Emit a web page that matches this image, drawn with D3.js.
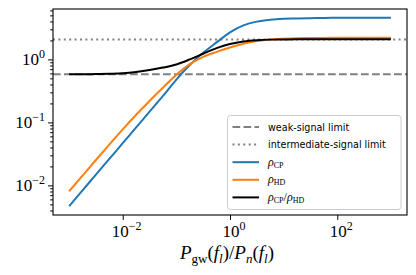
<!DOCTYPE html>
<html>
<head>
<meta charset="utf-8">
<script src="https://cdn.jsdelivr.net/npm/d3@7"></script>
<style>
  body { margin: 0; background: #fff; }
  svg { display: block; }
</style>
</head>
<body>
<svg id="chart" width="416" height="275"></svg>
<script>
// ratio P_gw / P_n (quarter decades)
const snr = [0.001, 0.00178, 0.00316, 0.00562, 0.01, 0.0178, 0.0316, 0.0562, 0.1, 0.178, 0.316, 0.562,
  1, 1.78, 3.16, 5.62, 10, 17.8, 31.6, 56.2, 100, 178, 316, 562, 1000];
const rhoCP = [0.00468, 0.00832, 0.0148, 0.0263, 0.0468, 0.0832, 0.148, 0.263, 0.479, 0.813, 1.27, 1.86,
  2.69, 3.47, 3.98, 4.27, 4.42, 4.47, 4.52, 4.55, 4.57, 4.57, 4.57, 4.57, 4.57];
const rhoHD = [0.00807, 0.0143, 0.0253, 0.0445, 0.0776, 0.132, 0.219, 0.355, 0.569, 0.841, 1.096, 1.318,
  1.549, 1.778, 1.95, 2.065, 2.128, 2.163, 2.183, 2.193, 2.198, 2.198, 2.198, 2.198, 2.198];
const ratio = [0.579, 0.581, 0.585, 0.592, 0.603, 0.631, 0.676, 0.741, 0.832, 1.00, 1.23, 1.51,
  1.76, 1.93, 2.02, 2.06, 2.07, 2.08, 2.08, 2.08, 2.08, 2.08, 2.08, 2.08, 2.08];
const weakLimit = 0.58;
const interLimit = 2.06;

const xMajor = [1e-2, 1, 1e2];
const yMajor = [1e-2, 1e-1, 1];
const xExp = ["\u22122", "0", "2"];
const yExp = ["\u22122", "\u22121", "0"];

const svg = d3.select("#chart");
const m = { left: 53, right: 407, top: 9, bottom: 215 };

const x = d3.scaleLog().domain([Math.pow(10, -3.3), Math.pow(10, 3.3)]).range([m.left, m.right]);
const y = d3.scaleLog().domain([Math.pow(10, -2.47), Math.pow(10, 0.80)]).range([m.bottom, m.top]);

svg.append("clipPath").attr("id", "clip")
  .append("rect").attr("x", m.left).attr("y", m.top)
  .attr("width", m.right - m.left).attr("height", m.bottom - m.top);

const plot = svg.append("g").attr("clip-path", "url(#clip)");

// limit lines
const hline = (v, dash) => plot.append("line")
  .attr("x1", m.left).attr("x2", m.right)
  .attr("y1", y(v)).attr("y2", y(v))
  .attr("stroke", "#808080").attr("stroke-width", 2)
  .attr("stroke-dasharray", dash);
hline(weakLimit, "7.7,3.3");
hline(interLimit, "2,3.4");

const line = d3.line().x((d, i) => x(snr[i])).y(d => y(d)).curve(d3.curveMonotoneX);
const series = [
  { vals: rhoCP, color: "#1f77b4" },
  { vals: rhoHD, color: "#ff7f0e" },
  { vals: ratio, color: "#000000" }
];
series.forEach(s => {
  plot.append("path").datum(s.vals)
    .attr("fill", "none").attr("stroke", s.color)
    .attr("stroke-width", 2).attr("stroke-linejoin", "round")
    .attr("d", line);
});

// axes
const yMinor = [];
[1e-3, 1e-2, 1e-1, 1].forEach(b => { for (let k = 2; k <= 9; k++) yMinor.push(b * k); });
const yDom = y.domain();
const yMinorIn = yMinor.filter(v => v >= yDom[0] && v <= yDom[1]);

svg.append("g").attr("transform", `translate(${m.left},0)`)
  .call(d3.axisLeft(y).tickValues(yMinorIn).tickSize(2.8).tickFormat(""))
  .call(g => g.select(".domain").remove());

const yAx = svg.append("g").attr("transform", `translate(${m.left},0)`)
  .call(d3.axisLeft(y).tickValues(yMajor).tickSize(4.9).tickFormat(""));
yAx.select(".domain").remove();

const xAx = svg.append("g").attr("transform", `translate(0,${m.bottom})`)
  .call(d3.axisBottom(x).tickValues(xMajor).tickSize(4.9).tickFormat(""));
xAx.select(".domain").remove();

svg.selectAll(".tick line").attr("stroke", "#000").attr("stroke-width", 1);

// tick labels with superscripts
yMajor.forEach((v, i) => {
  const t = svg.append("text")
    .attr("x", m.left - 8).attr("y", y(v) + 6)
    .attr("text-anchor", "end")
    .attr("font-family", "Liberation Serif, serif").attr("font-size", 17);
  t.append("tspan").text("10");
  t.append("tspan").attr("dy", -7).attr("font-size", 12).text(yExp[i]);
});
xMajor.forEach((v, i) => {
  const t = svg.append("text")
    .attr("x", x(v) + 4).attr("y", m.bottom + 22)
    .attr("text-anchor", "middle")
    .attr("font-family", "Liberation Serif, serif").attr("font-size", 17);
  t.append("tspan").text("10");
  t.append("tspan").attr("dy", -7).attr("font-size", 12).text(xExp[i]);
});

// frame
svg.append("rect").attr("x", m.left).attr("y", m.top)
  .attr("width", m.right - m.left).attr("height", m.bottom - m.top)
  .attr("fill", "none").attr("stroke", "#000").attr("stroke-width", 1.1);

// x label
const xl = svg.append("text")
  .attr("x", 227).attr("y", 259)
  .attr("text-anchor", "middle")
  .attr("font-family", "Liberation Serif, serif").attr("font-size", 19);
const part = (s, italic, sub) => {
  const sp = xl.append("tspan").text(s);
  if (italic) sp.attr("font-style", "italic");
  if (sub) sp.attr("font-size", 13);
  return sp;
};
part("P", true);
part("gw", false, true).attr("dy", 3.5);
part("(", false).attr("dy", -3.5);
part("f", true);
part("l", true, true).attr("dy", 3.5);
part(")/", false).attr("dy", -3.5);
part("P", true);
part("n", true, true).attr("dy", 3.5);
part("(", false).attr("dy", -3.5);
part("f", true);
part("l", true, true).attr("dy", 3.5);
part(")", false).attr("dy", -3.5);

// legend
const lg = svg.append("g");
lg.append("rect").attr("x", 227.5).attr("y", 115.5).attr("width", 173.5).attr("height", 94)
  .attr("rx", 3).attr("fill", "#fff").attr("fill-opacity", 0.8)
  .attr("stroke", "#cccccc").attr("stroke-width", 1);

const entries = [
  { color: "#808080", dash: "7.7,3.3", label: [["weak-signal limit"]] },
  { color: "#808080", dash: "2,3.4", label: [["intermediate-signal limit"]] },
  { color: "#1f77b4", dash: null, label: [["\u03c1", "i"], ["CP", "sub"]] },
  { color: "#ff7f0e", dash: null, label: [["\u03c1", "i"], ["HD", "sub"]] },
  { color: "#000000", dash: null, label: [["\u03c1", "i"], ["CP", "sub"], ["/", "n"], ["\u03c1", "i"], ["HD", "sub"]] }
];
entries.forEach((e, i) => {
  const cy = 127 + i * 17.6;
  lg.append("line").attr("x1", 232.5).attr("x2", 259).attr("y1", cy).attr("y2", cy)
    .attr("stroke", e.color).attr("stroke-width", 2)
    .attr("stroke-dasharray", e.dash);
  const t = lg.append("text").attr("x", 268).attr("y", cy + 3.5).attr("font-size", 9.6);
  if (e.label.length === 1) {
    t.attr("font-family", "DejaVu Sans, sans-serif").text(e.label[0][0]);
  } else {
    t.attr("font-family", "Liberation Serif, serif").attr("font-size", 12);
    let shift = 0;
    e.label.forEach(([s, k]) => {
      const sp = t.append("tspan").text(s);
      if (k === "i") { sp.attr("font-style", "italic").attr("dy", -shift); shift = 0; }
      else if (k === "sub") { sp.attr("font-size", 8).attr("dy", 2 - shift); shift = 2; }
      else { sp.attr("dy", -shift); shift = 0; }
    });
  }
});
</script>
</body>
</html>
